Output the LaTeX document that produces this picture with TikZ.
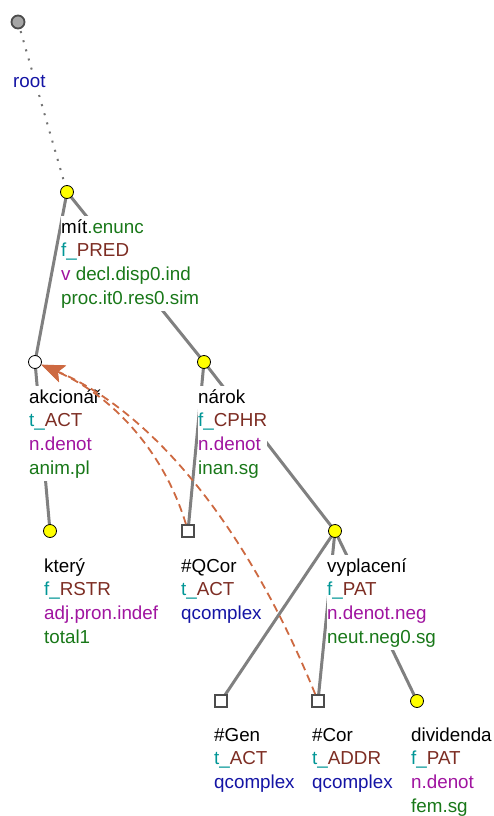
\documentclass[tikz,border=0pt]{standalone}
\usepackage{fontspec}
\setmainfont{Liberation Sans}
\usetikzlibrary{arrows.meta}
\definecolor{cgreen}{RGB}{25,120,25}
\definecolor{cteal}{RGB}{0,150,150}
\definecolor{cbrown}{RGB}{125,45,35}
\definecolor{cpurple}{RGB}{160,20,160}
\definecolor{cblue}{RGB}{20,20,165}
\definecolor{cedge}{RGB}{128,128,128}
\definecolor{ccoref}{RGB}{205,105,65}
\definecolor{cyel}{RGB}{255,255,0}
\pgfdeclarelayer{bg}
\pgfsetlayers{bg,main}
\newcommand\labtext[1]{\begin{tabular}[t]{@{}l@{}}#1\end{tabular}}
\newcommand\gr[1]{\textcolor{cgreen}{#1}}
\newcommand\te[1]{\textcolor{cteal}{#1}}
\newcommand\br[1]{\textcolor{cbrown}{#1}}
\newcommand\pu[1]{\textcolor{cpurple}{#1}}
\newcommand\bl[1]{\textcolor{cblue}{#1}}
\begin{document}
\begin{tikzpicture}[x=1pt,y=-1pt,
  tnode/.style={circle, draw=black, line width=0.8pt, fill=cyel, minimum size=13pt, inner sep=0pt},
  wnode/.style={circle, draw=black, line width=0.8pt, fill=white, minimum size=13pt, inner sep=0pt},
  rnode/.style={circle, draw=black!70, line width=1.8pt, fill=black!35, minimum size=13pt, inner sep=0pt},
  snode/.style={rectangle, draw=black!70, line width=1.8pt, fill=white, minimum size=12pt, inner sep=0pt},
  lab/.style={anchor=base west, inner xsep=0pt, inner ysep=0pt, fill=white, font=\fontsize{18.8}{23.7}\selectfont},
  edge/.style={draw=cedge, line width=3pt},
  rootedge/.style={draw=black!55, line width=2pt, dash pattern=on 2pt off 7.5pt},
  coref/.style={draw=ccoref, line width=1.8pt, dash pattern=on 8pt off 5pt, -{Stealth[length=23pt,width=18pt,inset=5pt]}}
]
\useasboundingbox (0,0) rectangle (494,816);

% tree nodes
\node[rnode] (root) at (18,22) {};
\node[tnode] (mit) at (67,192) {};
\node[wnode] (akc) at (35,362) {};
\node[tnode] (narok) at (204,362) {};
\node[tnode] (ktery) at (50,531) {};
\node[snode] (qcor) at (188,531) {};
\node[tnode] (vypl) at (335,531) {};
\node[snode] (gen) at (221,701) {};
\node[snode] (cor) at (318,701) {};
\node[tnode] (div) at (417,701) {};

% edges
\begin{pgfonlayer}{bg}
\draw[rootedge] (root.center) -- (mit.center);
\draw[edge] (mit.center) -- (akc.center);
\draw[edge] (mit.center) -- (narok.center);
\draw[edge] (akc.center) -- (ktery.center);
\draw[edge] (narok.center) -- (qcor.center);
\draw[edge] (narok.center) -- (vypl.center);
\draw[edge] (vypl.center) -- (gen.center);
\draw[edge] (vypl.center) -- (cor.center);
\draw[edge] (vypl.center) -- (div.center);
\end{pgfonlayer}

% labels
\node[lab] (Lroot) at (13,87) {\labtext{\bl{root}}};
\node[lab] (Lmit) at (61,233) {\labtext{mít\gr{.enunc}\\ \te{f\_}\br{PRED}\\ \pu{v} \gr{decl.disp0.ind}\\ \gr{proc.it0.res0.sim}}};
\node[lab] (Lakc) at (29,403) {\labtext{akcionář\\ \te{t\_}\br{ACT}\\ \pu{n.denot}\\ \gr{anim.pl}}};
\node[lab] (Lnarok) at (198,403) {\labtext{nárok\\ \te{f\_}\br{CPHR}\\ \pu{n.denot}\\ \gr{inan.sg}}};
\node[lab] (Lktery) at (44,572) {\labtext{který\\ \te{f\_}\br{RSTR}\\ \pu{adj.pron.indef}\\ \gr{total1}}};
\node[lab] (Lqcor) at (181,572) {\labtext{\#QCor\\ \te{t\_}\br{ACT}\\ \bl{qcomplex}}};
\node[lab] (Lvypl) at (327,572) {\labtext{vyplacení\\ \te{f\_}\br{PAT}\\ \pu{n.denot.neg}\\ \gr{neut.neg0.sg}}};
\node[lab] (Lgen) at (214,741) {\labtext{\#Gen\\ \te{t\_}\br{ACT}\\ \bl{qcomplex}}};
\node[lab] (Lcor) at (312,741) {\labtext{\#Cor\\ \te{t\_}\br{ADDR}\\ \bl{qcomplex}}};
\node[lab] (Ldiv) at (411,741) {\labtext{dividenda\\ \te{f\_}\br{PAT}\\ \pu{n.denot}\\ \gr{fem.sg}}};

% coreference arrows
\draw[coref] (qcor) .. controls (164,452) and (113,396) .. (akc);
\draw[coref] (cor) .. controls (246,524) and (151,411) .. (akc);
\end{tikzpicture}
\end{document}
